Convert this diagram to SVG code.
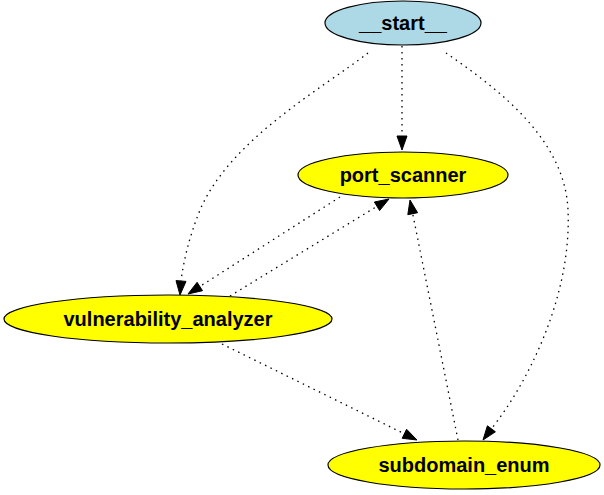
<svg xmlns="http://www.w3.org/2000/svg" width="604" height="495" viewBox="0 0 604 495">
<style>
.n{stroke:#000;stroke-width:1.2}
.t{font-family:"Liberation Sans",Arial,sans-serif;font-weight:bold;font-size:20px;text-anchor:middle;dominant-baseline:central;fill:#000}
.e{fill:none;stroke:#000;stroke-width:1.3;stroke-dasharray:1.5,4.5}
.h{fill:#000;stroke:#000;stroke-width:1}
</style>
<rect width="604" height="495" fill="#fff"/>
<g id="connectors">
<path class="e" d="M402,46 L402,136"/>
<polygon class="h" points="397,136 407,136 402,150"/>
<path class="e" d="M368,53 C320,90 230,140 200,210 C190,235 184,258 181,281"/>
<polygon class="h" points="186,281.4 176,280.6 180,295"/>
<path class="e" d="M446,53 C500,90 565,140 568,210 C572,300 524,388 491.4,428.8"/>
<polygon class="h" points="495.4,431.8 487.4,425.8 483,440"/>
<path class="e" d="M340,197 L199.8,286.5"/>
<polygon class="h" points="202.5,290.7 197.1,282.3 188,294"/>
<path class="e" d="M230,296 L377,206.3"/>
<polygon class="h" points="379.6,210.6 374.4,202 389,199"/>
<path class="e" d="M222,344 L404.4,433.8"/>
<polygon class="h" points="402.2,438.3 406.6,429.3 417,440"/>
<path class="e" d="M458,440 L412.7,213.7"/>
<polygon class="h" points="417.6,212.7 407.8,214.7 410,200"/>
</g>
<g id="start">
<ellipse class="n" cx="403" cy="23" rx="78" ry="22" fill="#add8e6"/>
<text class="t" x="403" y="23">__start__</text>
</g>
<g id="port_scanner">
<ellipse class="n" cx="403" cy="175" rx="105" ry="23" fill="#ffff00"/>
<text class="t" x="403" y="175">port_scanner</text>
</g>
<g id="vulnerability_analyzer">
<ellipse class="n" cx="168" cy="319" rx="164" ry="24" fill="#ffff00"/>
<text class="t" x="168" y="319">vulnerability_analyzer</text>
</g>
<g id="subdomain_enum">
<ellipse class="n" cx="464" cy="465" rx="136" ry="24" fill="#ffff00"/>
<text class="t" x="464" y="465">subdomain_enum</text>
</g>
</svg>
